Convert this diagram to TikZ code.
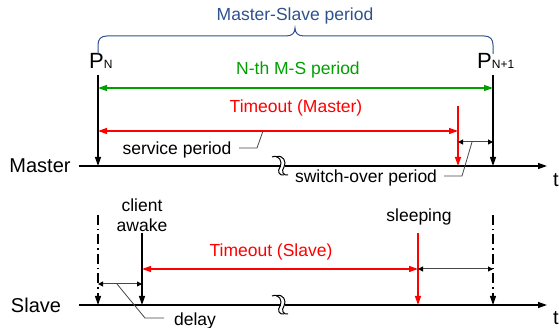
\documentclass[tikz,border=0pt]{standalone}
\usepackage{fontspec}
\setmainfont{Liberation Sans}
\usetikzlibrary{arrows.meta}
\definecolor{msblue}{RGB}{47,82,143}
\definecolor{msgreen}{RGB}{0,160,0}
\definecolor{leadgray}{RGB}{70,70,70}

\tikzset{
	axis/.style={line width=1.3pt, -{Triangle[length=9pt,width=6pt]}},
	dashtick/.style={line width=1.1pt, dash pattern=on 10pt off 4pt on 1.5pt off 4pt, -{Triangle[length=9pt,width=6pt]}},
	span/.style={line width=1.2pt, {Triangle[length=9pt,width=6pt]}-{Triangle[length=9pt,width=6pt]}},
	gap/.style={line width=1pt, leadgray, {Triangle[length=5pt,width=5pt,black]}-{Triangle[length=5pt,width=5pt,black]}},
	leader/.style={line width=0.8pt, leadgray},
	lbl/.style={font=\fontsize{17.5}{20}\selectfont, inner sep=0pt, align=center},
	big/.style={font=\fontsize{20}{22}\selectfont, inner sep=0pt},
	axisbreak/.pic={
		\fill[white] (0.5,-2) rectangle (4.5,2);
		\draw[line width=1pt] (-8,-9) .. controls (-1,-12) and (3,-4) .. (0,1) .. controls (-3,5) and (-1,10) .. (4,9);
		\draw[line width=1pt] (-4,-9) .. controls (3,-12) and (7,-4) .. (4,1) .. controls (1,5) and (3,10) .. (8,9);
	}
}

\begin{document}
\begin{tikzpicture}[x=1pt, y=-1pt]
	\useasboundingbox (0,0) rectangle (559,328);

	% time axes
	\coordinate (mstart) at (79,166);  \coordinate (mend) at (547,166);
	\coordinate (sstart) at (79,305);  \coordinate (send) at (547,305);
	\draw[axis] (mstart) -- (mend);
	\draw[axis] (sstart) -- (send);
	\pic at (280,166) {axisbreak};
	\pic at (280,305) {axisbreak};
	\node[big] (master) at (40,166) {Master};
	\node[big] (slave) at (36,305) {Slave};
	\node[big] (tm) at (556,180) {t};
	\node[big] (ts) at (556,318) {t};

	% master side
	\node[inner sep=0pt, anchor=base west] (pn) at (89,69) {\fontsize{22}{24}\selectfont P\fontsize{12}{13}\selectfont N};
	\node[inner sep=0pt, anchor=base west] (pnn) at (477,69) {\fontsize{22}{24}\selectfont P\fontsize{12}{13}\selectfont N+1};
	\coordinate (pntop) at (98,75);   \coordinate (pnbot) at (98,166);
	\coordinate (pnntop) at (493,75); \coordinate (pnnbot) at (493,166);
	\draw[axis] (pntop) -- (pnbot);
	\draw[axis] (pnntop) -- (pnnbot);

	\draw[msblue, line width=1pt] (98,54) -- (98,45) .. controls (98,39) and (101,36) .. (107,36) -- (286,36)
		.. controls (292,36) and (295,33) .. (295,28) .. controls (295,33) and (298,36) .. (304,36) -- (484,36)
		.. controls (490,36) and (493,39) .. (493,45) -- (493,54);
	\node[lbl, text=msblue] (mslabel) at (295,16) {Master-Slave period};

	\coordinate (ga) at (98,88); \coordinate (gb) at (493,88);
	\draw[span, msgreen] (ga) -- (gb);
	\node[lbl, text=msgreen] (nth) at (298,70) {N-th M-S period};

	\coordinate (ra) at (98,131); \coordinate (rb) at (458,131);
	\draw[span, red] (ra) -- (rb);
	\node[lbl, text=red] (tomaster) at (296,108) {Timeout (Master)};
	\coordinate (rtop) at (458,106); \coordinate (rbot) at (458,166);
	\draw[axis, red] (rtop) -- (rbot);

	\coordinate (swa) at (458,142); \coordinate (swb) at (493,142);
	\draw[gap] (swa) -- (swb);

	\node[lbl] (service) at (177,150) {service period};
	\draw[leader] (239,148) -- (257,148) -- (263,131);
	\node[lbl] (switch) at (366,178) {switch-over period};
	\draw[leader] (444,176) -- (462,176) -- (472,142);

	% slave side
	\coordinate (da) at (98,215);  \coordinate (db) at (98,305);
	\coordinate (dc) at (493,215); \coordinate (dd) at (493,305);
	\draw[dashtick] (da) -- (db);
	\draw[dashtick] (dc) -- (dd);

	\node[lbl] (awake) at (142,215) {client\\awake};
	\coordinate (ca) at (142,233); \coordinate (cb) at (142,305);
	\draw[axis] (ca) -- (cb);

	\node[lbl] (sleep) at (419,217) {sleeping};
	\coordinate (sla) at (418,233); \coordinate (slb) at (418,305);
	\draw[axis, red] (sla) -- (slb);

	\coordinate (tsa) at (142,269); \coordinate (tsb) at (418,269);
	\draw[span, red] (tsa) -- (tsb);
	\node[lbl, text=red] (toslave) at (271,252) {Timeout (Slave)};

	\coordinate (dla) at (98,284); \coordinate (dlb) at (142,284);
	\draw[gap] (dla) -- (dlb);
	\coordinate (ga2) at (418,269); \coordinate (gb2) at (493,269);
	\draw[gap] (ga2) -- (gb2);

	\node[lbl] (delay) at (195,321) {delay};
	\draw[leader] (117,284) -- (145,318) -- (164,318);
\end{tikzpicture}
\end{document}
